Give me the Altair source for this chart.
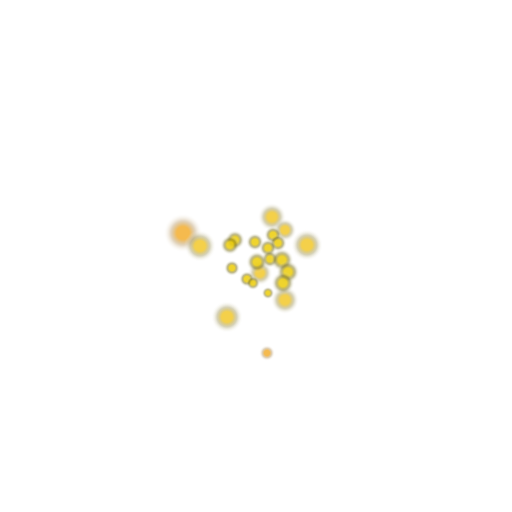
import altair as alt
import pandas as pd

xs = [183, 200, 235, 230, 255, 272, 285, 307, 273, 278, 268, 270, 282, 257, 260, 288, 283, 232, 247, 253, 268, 285, 227, 267]
ys = [233, 246, 240, 245, 242, 217, 230, 245, 235, 243, 248, 259, 260, 262, 273, 272, 283, 268, 279, 283, 293, 300, 317, 353]
radius = [22, 18, 11, 11, 10, 16, 13, 18, 10, 10, 10, 10, 13, 12, 14, 13, 13, 9, 9, 8, 7, 16, 18, 9]
group = ["orange", "gold", "yellow", "yellow", "yellow", "gold", "gold", "gold", "yellow", "yellow",
         "yellow", "yellow", "yellow", "yellow", "gold", "yellow", "yellow", "yellow", "yellow", "yellow",
         "yellow", "gold", "gold", "orange"]

df = pd.DataFrame({"x": xs, "y": ys, "r": radius, "g": group})
df["area"] = 3.14159 * df["r"] ** 2

cores = {"orange": "#f4b23a", "gold": "#f2c82a", "yellow": "#eccc08"}
rims = {"orange": "rgba(190,160,110,0.5)", "gold": "rgba(160,150,90,0.5)", "yellow": "rgba(110,100,10,0.5)"}

layers = []
for g in ["orange", "gold", "yellow"]:
    grad = {
        "gradient": "radial",
        "stops": [
            {"offset": 0, "color": cores[g]},
            {"offset": 0.33, "color": cores[g]},
            {"offset": 0.62, "color": rims[g]},
            {"offset": 1, "color": "rgba(255,255,255,0)"},
        ],
    }
    layers.append(
        alt.Chart(df[df.g == g])
        .mark_circle(color=grad, opacity=0.9 if g == "orange" else 0.85)
        .encode(
            x=alt.X("x:Q", scale=alt.Scale(domain=[8, 504]), axis=None),
            y=alt.Y("y:Q", scale=alt.Scale(domain=[504, 8]), axis=None),
            size=alt.Size("area:Q", scale=alt.Scale(domain=[0, 1600], range=[0, 1600]), legend=None),
        )
    )

chart = (
    alt.layer(*layers)
    .properties(width=496, height=496, padding=0, autosize="none")
    .configure_view(stroke=None)
)
chart.save("out.html", embed_options={"renderer": "svg", "actions": False})
